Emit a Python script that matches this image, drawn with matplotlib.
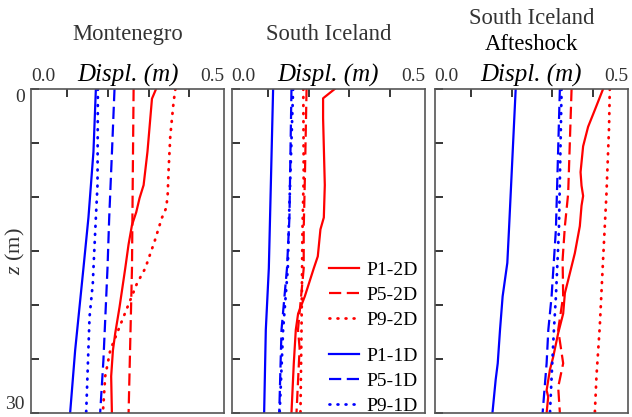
import matplotlib
matplotlib.use('Agg')
import matplotlib.pyplot as plt

plt.rcParams['font.family'] = ['Liberation Serif', 'DejaVu Serif']
plt.rcParams['mathtext.fontset'] = 'custom'
plt.rcParams['mathtext.it'] = 'Liberation Serif:italic'
plt.rcParams['mathtext.rm'] = 'Liberation Serif'

# ---------------- data (displacement in m vs depth z in m) ----------------
labels = ['P1-2D', 'P5-2D', 'P9-2D', 'P1-1D', 'P5-1D', 'P9-1D']
panel_titles = [['Montenegro'], ['South Iceland'], ['South Iceland', 'Afteshock']]

# Montenegro
mon_p1_2d_z = [0, 0.9, 5.8, 8.9, 10.1, 11.4, 12.6, 14.4, 16.6, 20.2, 22.6, 24.2, 26.6, 30]
mon_p1_2d_x = [0.318, 0.308, 0.297, 0.2875, 0.2776, 0.2695, 0.259, 0.2506, 0.2425, 0.2285, 0.218, 0.2123, 0.208, 0.2098]
mon_p5_2d_z = [0, 8, 16.6, 30]
mon_p5_2d_x = [0.263, 0.261, 0.259, 0.2507]
mon_p9_2d_z = [0, 1.2, 4.3, 7.3, 9.8, 11, 11.9, 12.9, 14.1, 15.7, 16.6, 18, 21.1, 24.2, 26.6, 30]
mon_p9_2d_x = [0.3654, 0.361, 0.353, 0.349, 0.3465, 0.343, 0.3327, 0.3243, 0.3145, 0.2998, 0.2916, 0.2713, 0.2383, 0.2057, 0.1934, 0.1877]
mon_p1_1d_z = [0, 5.8, 11.9, 16.6, 24.2, 30]
mon_p1_1d_x = [0.1705, 0.1646, 0.1523, 0.14, 0.1197, 0.1074]
mon_p5_1d_z = [0, 5.8, 11.9, 16.6, 25.1, 30]
mon_p5_1d_x = [0.2162, 0.21, 0.2032, 0.199, 0.189, 0.181]
mon_p9_1d_z = [0, 8.9, 11.9, 16.6, 18, 21.1, 30]
mon_p9_1d_x = [0.1754, 0.1745, 0.1705, 0.1646, 0.163, 0.155, 0.1467]

# South Iceland
si_p1_2d_z = [0, 0.86, 2.7, 8.9, 11.9, 13, 15.5, 16.6, 19.2, 20.8, 22.3, 25.4, 30]
si_p1_2d_x = [0.264, 0.2355, 0.2355, 0.2397, 0.2373, 0.229, 0.2225, 0.2127, 0.1907, 0.1743, 0.1686, 0.1637, 0.158]
si_p5_2d_z = [0, 8, 13, 16.6, 22.3, 24, 30]
si_p5_2d_x = [0.195, 0.191, 0.188, 0.188, 0.174, 0.178, 0.1703]
si_p9_2d_z = [0, 8, 13, 22.3, 30]
si_p9_2d_x = [0.187, 0.188, 0.185, 0.1826, 0.180]
si_p1_1d_z = [0, 8.9, 16.6, 22.3, 30]
si_p1_1d_x = [0.113, 0.1074, 0.1025, 0.0951, 0.091]
si_p5_1d_z = [0, 11.9, 16.6, 22.3, 30]
si_p5_1d_x = [0.158, 0.153, 0.147, 0.1336, 0.128]
si_p9_1d_z = [0, 11.9, 16.6, 22.3, 30]
si_p9_1d_x = [0.162, 0.152, 0.149, 0.1375, 0.129]

# South Iceland aftershock
sa_p1_2d_z = [0, 1.94, 3.5, 5.3, 7.7, 8.95, 9.9, 10.8, 12.7, 15.2, 17.7, 18.9, 20.8, 22.6, 24.8, 26, 27.9, 28.5, 30]
sa_p1_2d_x = [0.4242, 0.404, 0.3875, 0.3753, 0.369, 0.3714, 0.3753, 0.3714, 0.3672, 0.355, 0.3386, 0.3306, 0.3264, 0.3142, 0.302, 0.2939, 0.2858, 0.2897, 0.2858]
sa_p5_2d_z = [0, 9.7, 12.7, 15.8, 19.2, 22.3, 25.4, 27.6, 30]
sa_p5_2d_x = [0.347, 0.3386, 0.3306, 0.325, 0.3264, 0.3142, 0.3264, 0.3142, 0.3183]
sa_p9_2d_z = [0, 3.5, 9.7, 15.8, 22, 26.6, 30]
sa_p9_2d_x = [0.4406, 0.4389, 0.4325, 0.4242, 0.4161, 0.408, 0.404]
sa_p1_1d_z = [0, 13, 16.1, 19.2, 22.3, 25.4, 26.9, 30]
sa_p1_1d_x = [0.21, 0.1936, 0.1895, 0.178, 0.1716, 0.166, 0.161, 0.153]
sa_p5_1d_z = [0, 13, 19.2, 22.3, 25.4, 30]
sa_p5_1d_x = [0.3183, 0.3086, 0.298, 0.29, 0.2858, 0.276]
sa_p9_1d_z = [0, 13, 19.2, 22.3, 25.4, 30]
sa_p9_1d_x = [0.3225, 0.316, 0.3086, 0.3037, 0.2996, 0.294]

panels = [
    [(mon_p1_2d_x, mon_p1_2d_z), (mon_p5_2d_x, mon_p5_2d_z), (mon_p9_2d_x, mon_p9_2d_z),
     (mon_p1_1d_x, mon_p1_1d_z), (mon_p5_1d_x, mon_p5_1d_z), (mon_p9_1d_x, mon_p9_1d_z)],
    [(si_p1_2d_x, si_p1_2d_z), (si_p5_2d_x, si_p5_2d_z), (si_p9_2d_x, si_p9_2d_z),
     (si_p1_1d_x, si_p1_1d_z), (si_p5_1d_x, si_p5_1d_z), (si_p9_1d_x, si_p9_1d_z)],
    [(sa_p1_2d_x, sa_p1_2d_z), (sa_p5_2d_x, sa_p5_2d_z), (sa_p9_2d_x, sa_p9_2d_z),
     (sa_p1_1d_x, sa_p1_1d_z), (sa_p5_1d_x, sa_p5_1d_z), (sa_p9_1d_x, sa_p9_1d_z)],
]

# ---------------- styling ----------------
W, H = 632, 417
fig = plt.figure(figsize=(W / 100, H / 100), dpi=100)

lefts = [31, 231.7, 434.7]
ax_w, top_px, bot_px = 193.3, 89, 413
colors = ['#ff0000'] * 3 + ['#0000ff'] * 3
dashed = (0, (5.5, 2.5))
dotted = (0, (0.3, 2.6))
styles = [dict(linestyle='-', lw=1.6),
          dict(linestyle=dashed, lw=1.6),
          dict(linestyle=dotted, lw=2.0, dash_capstyle='round')] * 2

text_gray = '#333333'
axes = []
for i, left in enumerate(lefts):
    ax = fig.add_axes([left / W, (H - bot_px) / H, ax_w / W, (bot_px - top_px) / H])
    axes.append(ax)
    handles = []
    for j, (xs, zs) in enumerate(panels[i]):
        ln, = ax.plot(xs, zs, color=colors[j], label=labels[j], **styles[j])
        handles.append(ln)
    ax.set_xlim(0.0115, 0.4853)
    ax.set_ylim(30, 0)
    ax.set_xticks([0.1, 0.2, 0.3, 0.4])
    ax.set_xticklabels([])
    ax.set_yticks([0, 5, 10, 15, 20, 25, 30])
    if i == 0:
        ax.set_yticklabels(['0', '', '', '', '', '', '30'])
    else:
        ax.set_yticklabels([])
    ax.tick_params(direction='in', length=5.5, width=1.1, color='black',
                   top=True, bottom=False, right=False, left=True,
                   labeltop=False, labelbottom=False,
                   labelsize=14, labelcolor=text_gray, pad=4.5)
    for s in ax.spines.values():
        s.set_color('#555555')
        s.set_linewidth(1.2)
    yb = 1 + 7.5 / 324
    ax.text(0, yb, '0.0', transform=ax.transAxes, ha='left', va='baseline',
            fontsize=14, color=text_gray)
    ax.text(1, yb, '0.5', transform=ax.transAxes, ha='right', va='baseline',
            fontsize=14, color=text_gray)
    ax.text(0.5, yb, 'Displ. (m)', transform=ax.transAxes, ha='center', va='baseline',
            fontsize=18, style='italic', color='black')
    if len(panel_titles[i]) == 1:
        ax.text(0.5, 1 + 48.5 / 324, panel_titles[i][0], transform=ax.transAxes,
                ha='center', va='baseline', fontsize=16.3, color=text_gray)
    else:
        ax.text(0.5, 1 + 65 / 324, panel_titles[i][0], transform=ax.transAxes,
                ha='center', va='baseline', fontsize=16.3, color=text_gray)
        ax.text(0.5, 1 + 39 / 324, panel_titles[i][1], transform=ax.transAxes,
                ha='center', va='baseline', fontsize=16.3, color='black')
    if i == 1:
        leg_handles = handles

ticks0 = axes[0].yaxis.get_major_ticks()
ticks0[0].label1.set_verticalalignment('top')
ticks0[-1].label1.set_verticalalignment('bottom')

fig.text(15 / W, 1 - 251 / H, '$z$ (m)', rotation=90, fontsize=16,
         ha='center', va='center', color=text_gray)

leg_kw = dict(loc='upper left', bbox_transform=fig.transFigure, frameon=False,
              fontsize=14, handlelength=1.55, handletextpad=0.35,
              labelspacing=0.38, borderpad=0, borderaxespad=0)
leg1 = axes[1].legend(handles=leg_handles[:3], bbox_to_anchor=(329.3 / W, 1 - 261 / H), **leg_kw)
axes[1].add_artist(leg1)
leg2 = axes[1].legend(handles=leg_handles[3:], bbox_to_anchor=(329.3 / W, 1 - 347 / H), **leg_kw)

fig.savefig('out.png', dpi=100)
